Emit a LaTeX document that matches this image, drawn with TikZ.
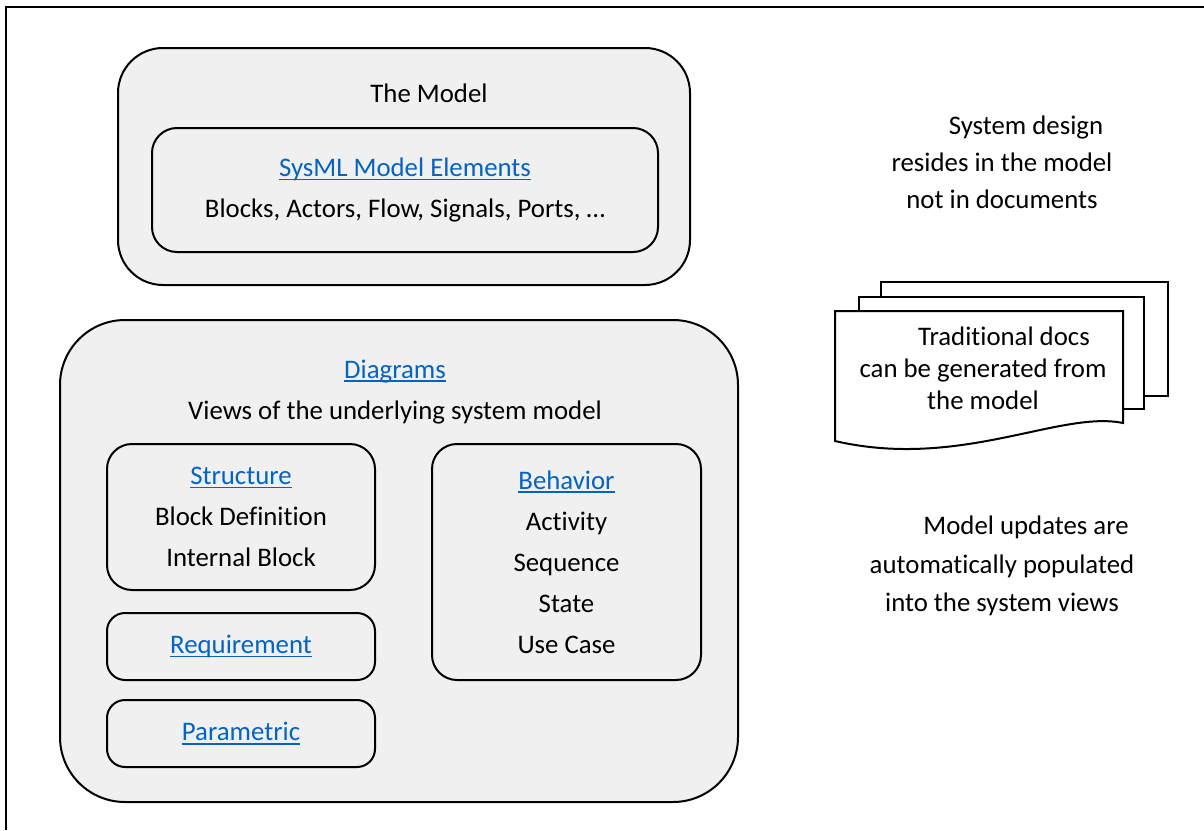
\documentclass[tikz,border=0pt]{standalone}
\usepackage{fontspec}
\setmainfont[Ligatures=NoCommon]{Carlito}
\usepackage{tikz}
\definecolor{linkblue}{RGB}{5,99,193}
\definecolor{boxgray}{RGB}{240,240,240}
\newcommand{\lnk}[1]{\textcolor{linkblue}{\setbox0\hbox{#1}\rlap{\rule[-1.8pt]{\wd0}{0.8pt}}\box0}}

\begin{document}
\begin{tikzpicture}[x=0.5pt,y=-0.5pt,
    box/.style={draw,line width=1pt,fill=boxgray,inner sep=0pt,align=center,
      font=\fontsize{13.4}{20.5}\selectfont},
    txt/.style={align=center,inner sep=0pt}]
    \useasboundingbox (0,0) rectangle (1204,830);
    \draw[line width=1pt] (6,830) -- (6,7) -- (1204,7);

    \begin{scope}
      \node[box,minimum width=286pt,minimum height=118.5pt,rounded corners=22.5pt] (model) at (404,166.5) {};
      \node[txt,font=\fontsize{13.4}{20.5}\selectfont] (modeltitle) at (429,93) {The Model};
      \node[box,minimum width=253pt,minimum height=62pt,rounded corners=12.5pt] (elements) at (405,190)
        {\lnk{SysML Model Elements}\\Blocks, Actors, Flow, Signals, Ports, …};
    \end{scope}

    \begin{scope}
      \node[box,minimum width=339pt,minimum height=241pt,rounded corners=32.5pt] (diagrams) at (399,561) {};
      \node[txt,font=\fontsize{13.4}{20.5}\selectfont] (diagtitle) at (395,392)
        {\lnk{Diagrams}\\Views of the underlying system model};
      \node[box,minimum width=134pt,minimum height=73pt,rounded corners=12.5pt] (structure) at (241,517)
        {\lnk{Structure}\\Block Definition\\Internal Block};
      \node[box,minimum width=134pt,minimum height=33.5pt,rounded corners=9pt] (requirement) at (241,646.5)
        {\lnk{Requirement}};
      \node[box,minimum width=134pt,minimum height=33.5pt,rounded corners=9pt] (parametric) at (241,733.5)
        {\lnk{Parametric}};
      \node[box,minimum width=134.5pt,minimum height=118pt,rounded corners=12.5pt] (behavior) at (566.5,562)
        {\lnk{Behavior}\\Activity\\Sequence\\State\\Use Case};
    \end{scope}

    \node[txt,font=\fontsize{13.4}{18.5}\selectfont] (design) at (1002,162.5)
      {\hspace*{24pt}System design\\resides in the model\\not in documents};

    \begin{scope}[line width=1pt]
      \draw[fill=white] (881,282) rectangle (1168,396);
      \draw[fill=white] (859,297) rectangle (1144,409);
      \draw[fill=white] (835,311) -- (1123,311) -- (1123,423)
        .. controls (1060,410) and (960,470) .. (835,441) -- cycle;
      \node[txt,font=\fontsize{13.4}{16}\selectfont] (docs) at (983,368)
        {\hspace*{21pt}Traditional docs\\can be generated from\\the model};
    \end{scope}

    \node[txt,font=\fontsize{13.4}{19.25}\selectfont] (updates) at (1002,566)
      {\hspace*{24pt}Model updates are\\automatically populated\\into the system views};
\end{tikzpicture}
\end{document}
